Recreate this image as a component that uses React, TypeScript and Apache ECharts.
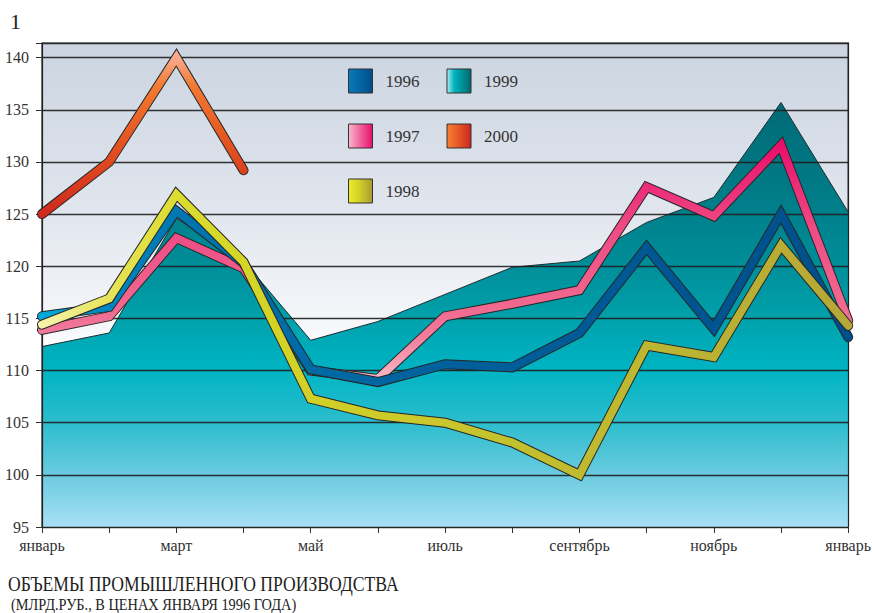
import React, { useEffect, useRef } from 'react';
import * as echarts from 'echarts';

const months = ['январь', 'февраль', 'март', 'апрель', 'май', 'июнь', 'июль', 'август', 'сентябрь', 'октябрь', 'ноябрь', 'декабрь', 'январь'];
const yTicks = [95, 100, 105, 110, 115, 120, 125, 130, 135, 140];

const s1996 = [115.2, 116.1, 125.3, 120.3, 110.1, 108.9, 110.6, 110.3, 113.6, 121.8, 114.0, 125.0, 113.2];
const s1997 = [113.9, 115.2, 122.7, 119.8, 110.0, 109.2, 115.2, 116.4, 117.7, 127.6, 124.8, 131.6, 114.8];
const s1998 = [114.4, 116.9, 126.9, 120.4, 107.3, 105.7, 105.0, 103.1, 100.0, 112.4, 111.3, 122.0, 114.3];
const s1999 = [112.3, 113.6, 124.6, 120.5, 112.9, 114.7, 117.3, 119.9, 120.5, 124.2, 126.6, 135.7, 125.2];
const s2000 = [125.0, 130.0, 140.0, 129.2];

const legendOrder = ['1996', '1999', '1997', '2000', '1998'];

const FONT = 'Liberation Serif';

const lg = (x2: number, y2: number, stops: [number, string][]) => ({
  type: 'linear',
  x: 0,
  y: 0,
  x2,
  y2,
  colorStops: stops.map(([offset, color]) => ({ offset, color })),
});

const colors: Record<string, any> = {
  '1996': lg(1, 0, [[0, '#05a8d8'], [0.08, '#0086c0'], [0.2, '#0072ac'], [0.5, '#00609c'], [1, '#004e8a']]),
  '1997': lg(0, 1, [[0, '#e8106c'], [0.35, '#ee4a84'], [0.7, '#f06a90'], [0.82, '#f27c9c'], [1, '#fab8c4']]),
  '1998': lg(1, 0, [[0, '#f6f3aa'], [0.08, '#e6e45c'], [0.17, '#dcdc30'], [0.27, '#d4d426'], [0.45, '#cbca2a'], [0.65, '#c0bc30'], [1, '#b5a836']]),
  '2000': lg(0, 1, [[0, '#f9aa8e'], [0.18, '#f27a32'], [0.5, '#e65822'], [1, '#cf2a1e']]),
};

const areaColor = lg(0, 1, [
  [0, '#006a76'],
  [0.23, '#007d88'],
  [0.38, '#008e99'],
  [0.5, '#00a0aa'],
  [0.63, '#00b4c4'],
  [0.75, '#2abdcd'],
  [0.88, '#6ccbe0'],
  [1, '#a8e0f5'],
]);

const legendColors: Record<string, any> = {
  '1996': lg(1, 0, [[0, '#0a7abb'], [1, '#004e8a']]),
  '1999': lg(1, 0, [[0, '#a8eef2'], [0.3, '#00b5be'], [1, '#006870']]),
  '1997': lg(1, 0, [[0, '#fab8ca'], [0.5, '#f0609a'], [1, '#e8106c']]),
  '2000': lg(1, 0, [[0, '#f68232'], [0.6, '#e04c22'], [1, '#c82620']]),
  '1998': lg(1, 0, [[0, '#eeea30'], [0.4, '#d6d428'], [1, '#a89a32']]),
};

const lineData: [string, number[]][] = [
  ['1997', s1997],
  ['1996', s1996],
  ['1998', s1998],
  ['2000', s2000],
];

function buildOption() {
  const lineSeries: any[] = [];
  lineData.forEach(([name, data]) => {
    lineSeries.push({
      name: name + '-outline',
      type: 'line',
      data,
      symbol: 'none',
      silent: true,
      z: 3,
      lineStyle: { color: '#262626', width: 10, cap: 'round', join: 'miter' },
      emphasis: { disabled: true },
    });
    lineSeries.push({
      name,
      type: 'line',
      data,
      symbol: 'none',
      silent: true,
      z: 3,
      lineStyle: { color: colors[name], width: 8, cap: 'round', join: 'miter' },
      emphasis: { disabled: true },
    });
  });

  return {
    animation: false,
    textStyle: { fontFamily: FONT },
    grid: {
      left: 42,
      right: 22,
      top: 43,
      bottom: 86,
      show: true,
      borderColor: '#222',
      borderWidth: 1.2,
      backgroundColor: lg(0, 1, [[0, '#cbd4e0'], [0.35, '#e1e6ee'], [0.6, '#f7f8fb'], [0.62, '#ffffff'], [1, '#ffffff']]),
    },
    legend: {
      left: 348,
      top: 67,
      padding: 0,
      width: 175,
      itemWidth: 24,
      itemHeight: 24,
      itemGap: 27,
      icon: 'rect',
      selectedMode: false,
      textStyle: { fontFamily: FONT, fontSize: 17, color: '#333', padding: [0, 0, 0, 8], lineHeight: 28 },
      data: legendOrder.map((name) => ({
        name,
        itemStyle: { color: legendColors[name], borderColor: '#333', borderWidth: 1 },
      })),
    },
    xAxis: {
      type: 'category',
      data: months,
      boundaryGap: false,
      z: 2,
      axisLine: { lineStyle: { color: '#222', width: 1.2 } },
      axisTick: { show: true, interval: 0, length: 6, lineStyle: { color: '#333' } },
      axisLabel: { interval: 1, margin: 10, fontSize: 16, color: '#333', fontFamily: FONT },
      splitLine: { show: false },
    },
    yAxis: [
      {
        type: 'value',
        min: yTicks[0],
        max: 141.4,
        interval: 5,
        z: 2,
        axisLine: { show: true, lineStyle: { color: '#222', width: 1.2 } },
        axisTick: { show: true, length: 6, lineStyle: { color: '#333' } },
        axisLabel: {
          margin: 13,
          fontSize: 16,
          color: '#333',
          fontFamily: FONT,
          formatter: (v: number) => (yTicks.indexOf(v) >= 0 ? String(v) : ''),
        },
        splitLine: { show: true, lineStyle: { color: 'rgba(30,30,30,0.9)', width: 1.4 } },
      },
      {
        type: 'value',
        position: 'right',
        min: yTicks[0],
        max: 141.4,
        interval: 5,
        z: 2,
        axisLine: { show: true, lineStyle: { color: '#222', width: 1.2 } },
        axisTick: { show: false },
        axisLabel: { show: false },
        splitLine: { show: false },
      },
    ],
    series: [
      {
        name: '1999',
        type: 'line',
        data: s1999,
        symbol: 'none',
        silent: true,
        z: 1,
        lineStyle: { color: '#1d2d30', width: 1 },
        areaStyle: { origin: 'start', color: areaColor, opacity: 1 },
        emphasis: { disabled: true },
      },
      ...lineSeries,
    ],
    graphic: [
      {
        type: 'text',
        x: 10,
        y: 21,
        style: { text: '1', fontFamily: FONT, fontSize: 22, fill: '#222', verticalAlign: 'middle' },
      },
      {
        type: 'text',
        x: 8,
        y: 583,
        scaleX: 0.8,
        style: { text: 'ОБЪЕМЫ ПРОМЫШЛЕННОГО ПРОИЗВОДСТВА', fontFamily: FONT, fontSize: 22, fill: '#222', verticalAlign: 'middle' },
      },
      {
        type: 'text',
        x: 11,
        y: 604,
        scaleX: 0.87,
        style: { text: '(МЛРД.РУБ., В ЦЕНАХ ЯНВАРЯ 1996 ГОДА)', fontFamily: FONT, fontSize: 16.5, fill: '#222', verticalAlign: 'middle' },
      },
    ],
  };
}

export default function App() {
  const ref = useRef<HTMLDivElement>(null);
  useEffect(() => {
    if (!ref.current) return;
    const chart = echarts.init(ref.current, null, { renderer: 'svg' });
    chart.setOption(buildOption() as any);
    return () => chart.dispose();
  }, []);
  return (
    <div
      ref={ref}
      style={{ position: 'fixed', left: 0, top: 0, width: 874, height: 613, background: '#ffffff' }}
    />
  );
}
